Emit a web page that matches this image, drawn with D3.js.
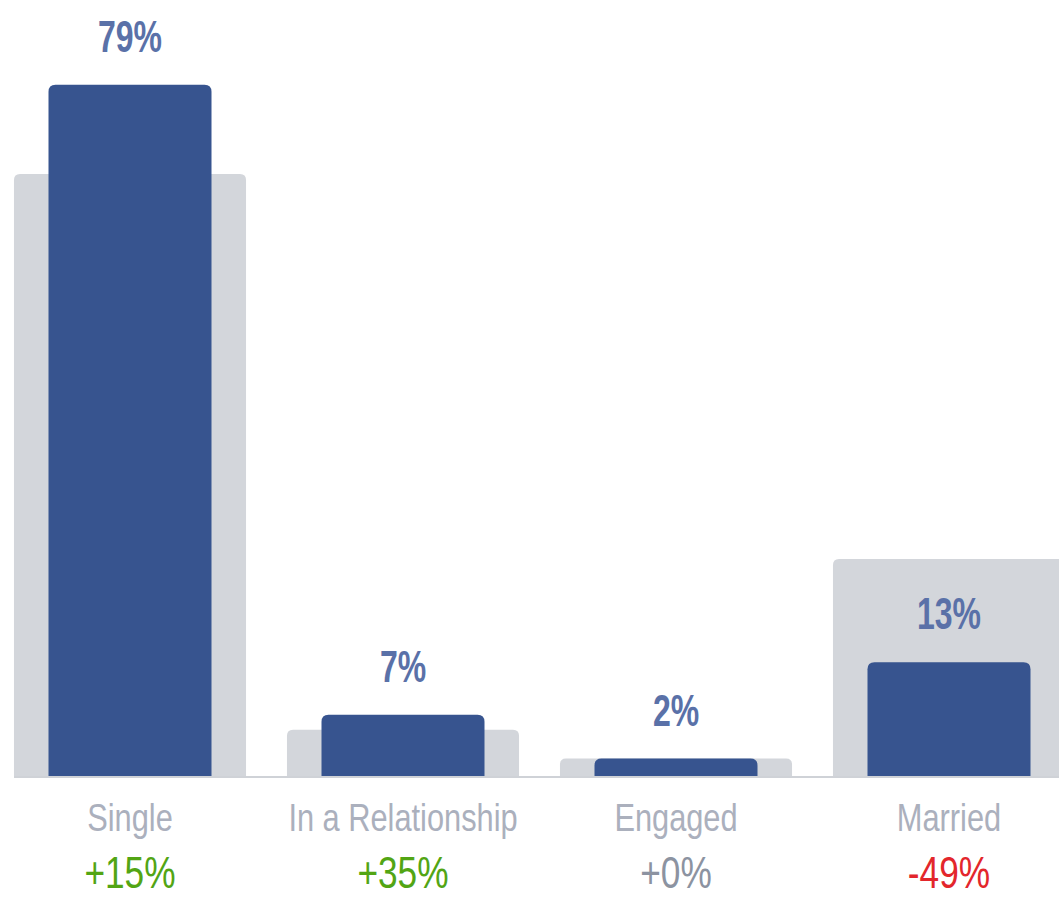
<!DOCTYPE html>
<html>
<head>
<meta charset="utf-8">
<script src="https://cdn.jsdelivr.net/npm/d3@7"></script>
<style>
  html, body { margin: 0; padding: 0; background: #fff; overflow: hidden; }
  svg { display: block; }
</style>
</head>
<body>
<div id="chart"></div>
<script>
// data
var categories = ['Single', 'In a Relationship', 'Engaged', 'Married'];
var shares = [79, 7, 2, 13];            // blue bars (%)
var benchmark = [68.8, 5.3, 2.0, 24.8]; // grey bars behind (%)
var changes = ['+15%', '+35%', '+0%', '-49%'];

var W = 1059, H = 898, base = 776;

var svg = d3.select('#chart').append('svg').attr('width', W).attr('height', H);

var x = d3.scaleBand()
  .domain(categories)
  .range([-6.5, 1085.5])
  .paddingInner(0.15)
  .paddingOuter(0.075);

var y = d3.scaleLinear().domain([0, 80]).range([base, 76]);

var innerW = 163;

// rect with only the top corners rounded
function topRounded(x0, y0, w, h, r) {
  r = Math.min(r, h, w / 2);
  return 'M' + x0 + ',' + (y0 + h) +
    'V' + (y0 + r) +
    'Q' + x0 + ',' + y0 + ' ' + (x0 + r) + ',' + y0 +
    'H' + (x0 + w - r) +
    'Q' + (x0 + w) + ',' + y0 + ' ' + (x0 + w) + ',' + (y0 + r) +
    'V' + (y0 + h) + 'Z';
}

var rows = categories.map(function(c, i) {
  return { cat: c, share: shares[i], bench: benchmark[i], change: changes[i] };
});

function mid(d) { return x(d.cat) + x.bandwidth() / 2; }

// grey benchmark bars
svg.selectAll('path.bench').data(rows).enter().append('path')
  .attr('class', 'bench')
  .attr('fill', '#d3d6db')
  .attr('d', function(d) {
    return topRounded(x(d.cat), y(d.bench), x.bandwidth(), base - y(d.bench), 6);
  });

// blue bars
svg.selectAll('path.share').data(rows).enter().append('path')
  .attr('class', 'share')
  .attr('fill', '#37548f')
  .attr('d', function(d) {
    return topRounded(mid(d) - innerW / 2, y(d.share), innerW, base - y(d.share), 7);
  });

// baseline
svg.append('line')
  .attr('x1', 14).attr('x2', W)
  .attr('y1', base + 1).attr('y2', base + 1)
  .attr('stroke', '#cfd2d7').attr('stroke-width', 2);

// no narrow face installed, so squeeze Liberation Sans sideways
var font = '"Liberation Sans", Arial, sans-serif';

// value labels above bars
svg.selectAll('text.val').data(rows).enter().append('text')
  .attr('class', 'val')
  .attr('transform', function(d) {
    return 'translate(' + mid(d) + ',' + (y(d.share) - 33) + ') scale(0.8,1.12)';
  })
  .attr('text-anchor', 'middle')
  .style('font-family', font)
  .style('font-size', '40px')
  .style('font-weight', 'bold')
  .attr('fill', '#5a71a8')
  .text(function(d) { return d.share + '%'; });

// category labels
svg.selectAll('text.cat').data(rows).enter().append('text')
  .attr('class', 'cat')
  .attr('transform', function(d) {
    return 'translate(' + mid(d) + ',831) scale(0.81,1)';
  })
  .attr('text-anchor', 'middle')
  .style('font-family', font)
  .style('font-size', '38px')
  .attr('fill', '#abb0bd')
  .text(function(d) { return d.cat; });

// change labels
svg.selectAll('text.chg').data(rows).enter().append('text')
  .attr('class', 'chg')
  .attr('transform', function(d) {
    return 'translate(' + mid(d) + ',888) scale(0.84,1.06)';
  })
  .attr('text-anchor', 'middle')
  .style('font-family', font)
  .style('font-size', '42px')
  .attr('fill', function(d) {
    if (d.change.charAt(0) === '-') return '#e3262c';
    if (d.change === '+0%') return '#8c93a1';
    return '#52a514';
  })
  .text(function(d) { return d.change; });
</script>
</body>
</html>
